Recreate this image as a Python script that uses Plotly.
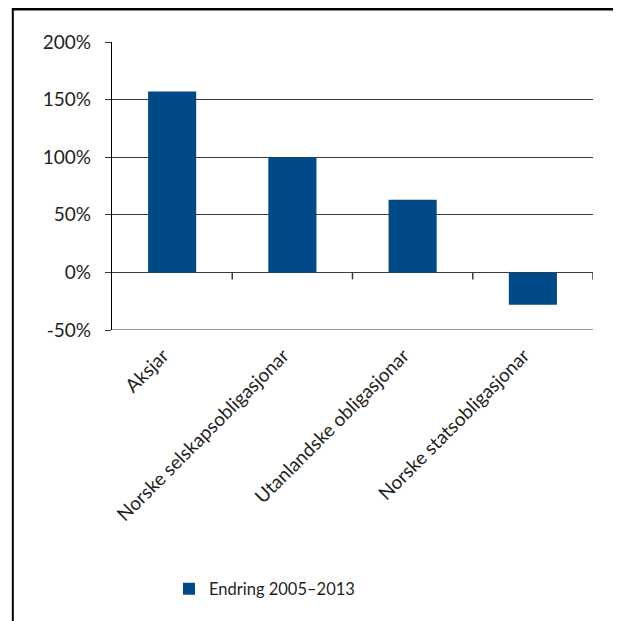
import plotly.graph_objects as go

categories = ["Aksjar", "Norske selskapsobligasjonar", "Utanlandske obligasjonar", "Norske statsobligasjonar"]
values = [157, 100, 63, -28]
series_name = "Endring 2005–2013"
y_ticks = [-50, 0, 50, 100, 150, 200]
y_tick_labels = ["-50%", "0%", "50%", "100%", "150%", "200%"]

BAR = "#004b87"
TXT = "#231f20"
GRID = "#3c3c3c"
FONT = "Lato"
FS = 19

# page body has an 8px margin: work in window pixels, shift by OFF
OFF = 8
W, H = 613, 613
L, R, T, B = 112 - OFF, 621 - 593 - OFF + 8, 42 - OFF, 621 - 330
pw = W - L - R
ph = H - T - B

fig = go.Figure()
fig.add_trace(go.Bar(x=categories, y=values, name=series_name,
                     marker=dict(color=BAR, line=dict(width=0)), width=0.4))
# invisible companion on a label axis (labels nudged left like the original)
fig.add_trace(go.Bar(x=categories, y=values, xaxis="x2", showlegend=False,
                     opacity=0, hoverinfo="skip", marker=dict(color=BAR)))


def px2paper_x(px):
    return (px - OFF - L) / pw


def px2paper_y(py):
    return (H - B - (py - OFF)) / ph


shapes = []
# frame lines (top and left)
shapes.append(dict(type="line", xref="paper", yref="paper",
                   x0=px2paper_x(12), x1=px2paper_x(640), y0=px2paper_y(9.2), y1=px2paper_y(9.2),
                   line=dict(color="black", width=2.5)))
shapes.append(dict(type="line", xref="paper", yref="paper",
                   x0=px2paper_x(12.8), x1=px2paper_x(12.8), y0=px2paper_y(8), y1=px2paper_y(640),
                   line=dict(color="black", width=2)))
# bottom gridline (at range edge)
shapes.append(dict(type="line", xref="paper", yref="y", x0=0, x1=1, y0=y_ticks[0], y1=y_ticks[0],
                   line=dict(color=GRID, width=1.2)))
# category boundary ticks hanging from the zero line
for i in range(len(categories)):
    shapes.append(dict(type="line", xref="x", yref="y", ysizemode="pixel", yanchor=0,
                       x0=i + 0.5, x1=i + 0.5, y0=0, y1=-7,
                       line=dict(color=GRID, width=1.5)))

shift = 9 / (pw / len(categories))

fig.update_layout(
    width=W, height=H,
    margin=dict(l=L, r=R, t=T, b=B, pad=0),
    paper_bgcolor="white", plot_bgcolor="white",
    font=dict(family=FONT, size=FS, color=TXT),
    bargap=0.6,
    barmode="overlay",
    showlegend=True,
    legend=dict(orientation="h", x=px2paper_x(169), xanchor="left",
                y=px2paper_y(589), yanchor="middle",
                font=dict(family=FONT, size=16.5, color=TXT), bgcolor="rgba(0,0,0,0)"),
    shapes=shapes,
    xaxis=dict(type="category", showticklabels=False, showgrid=False, showline=False,
               ticks="", zeroline=False, range=[-0.5, 3.5]),
    xaxis2=dict(type="category", overlaying="x", anchor="y", side="bottom",
                tickangle=-45, showgrid=False, showline=False, ticks="", zeroline=False,
                tickfont=dict(family=FONT, size=FS, color=TXT),
                range=[-0.5 + shift, 3.5 + shift], ticklabelstandoff=10),
)
fig.update_yaxes(range=[-50, 200], tickvals=y_ticks, ticktext=y_tick_labels,
                 showgrid=True, gridcolor=GRID, gridwidth=1.2,
                 zeroline=False, showline=True, linecolor="black", linewidth=1.2,
                 ticks="outside", ticklen=6, tickcolor=GRID, tickwidth=1.2,
                 tickfont=dict(family=FONT, size=FS, color=TXT), ticklabelstandoff=10)

fig.write_html("out.html")
